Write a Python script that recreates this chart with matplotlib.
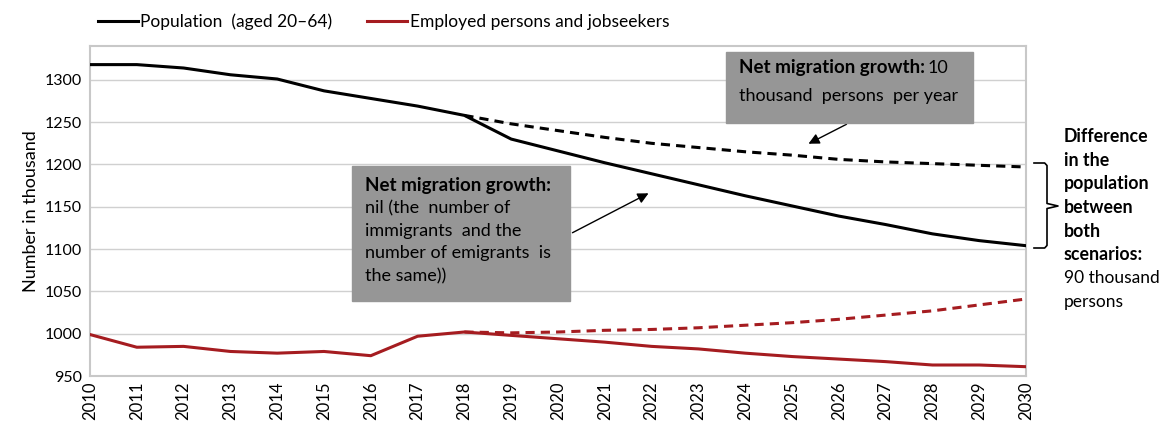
import matplotlib.pyplot as plt
import matplotlib.patches as patches

plt.rcParams['font.family'] = ['Lato', 'DejaVu Sans']

# Data (thousand persons)
years = list(range(2010, 2031))
population = [1318, 1318, 1314, 1306, 1301, 1287, 1278, 1269, 1258, 1230, 1216,
              1202, 1189, 1176, 1163, 1151, 1139, 1129, 1118, 1110, 1104]
population_mig = [1258, 1248, 1240, 1232, 1225, 1220, 1215, 1211, 1206, 1203, 1201, 1199, 1197]
employed = [999, 984, 985, 979, 977, 979, 974, 997, 1002, 998, 994,
            990, 985, 982, 977, 973, 970, 967, 963, 963, 961]
employed_mig = [1002, 1001, 1002, 1004, 1005, 1007, 1010, 1013, 1017, 1022, 1027, 1034, 1041]
years_mig = years[8:]

box1_lines = ['nil (the  number of', 'immigrants  and the', 'number of emigrants  is', 'the same))']
right_bold = ['Difference', 'in the', 'population', 'between', 'both', 'scenarios:']
right_normal = ['90 thousand', 'persons']

W, H = 1164, 423
red = '#a51c20'
grey_box = '#969696'


def fx(px):
    return px / W


def fy(py):
    return 1 - py / H


fig = plt.figure(figsize=(W / 100, H / 100), dpi=100)
ax = fig.add_axes([fx(90), fy(376), (1026 - 90) / W, (376 - 46) / H])

ax.plot(years, population, color='black', lw=2.2, label='Population  (aged 20–64)', zorder=3)
ax.plot(years_mig, population_mig, color='black', lw=2.2, ls=(0, (3, 2)), zorder=3)
ax.plot(years, employed, color=red, lw=2.2, label='Employed persons and jobseekers', zorder=3)
ax.plot(years_mig, employed_mig, color=red, lw=2.2, ls=(0, (3, 2)), zorder=3)

ax.set_xlim(2010, 2030)
ax.set_ylim(950, 1340)
ax.set_yticks(range(950, 1301, 50))
ax.set_xticks(years)
ax.set_xticklabels([str(y) for y in years], rotation=90, fontsize=12)
ax.tick_params(axis='y', labelsize=11.5, length=0, pad=6)
ax.tick_params(axis='x', length=0, pad=4)
ax.grid(axis='y', color='#d0d0d0', lw=1)
ax.set_axisbelow(True)
for s in ax.spines.values():
    s.set_color('#c8c8c8')
    s.set_linewidth(1.5)
ax.set_ylabel('Number in thousand', fontsize=13, labelpad=4)

fig.legend(loc='upper left', bbox_to_anchor=(fx(82), 1.005), ncol=2, frameon=False,
           fontsize=12.5, handlelength=2.3, handletextpad=0.15, columnspacing=2.0)

# grey boxes
fig.add_artist(patches.Rectangle((fx(352), fy(301)), (570 - 352) / W, (301 - 166) / H,
                                 transform=fig.transFigure, color=grey_box, zorder=4))
fig.add_artist(patches.Rectangle((fx(726), fy(123)), (973 - 726) / W, (123 - 52) / H,
                                 transform=fig.transFigure, color=grey_box, zorder=4))

fig.text(fx(365), fy(185), 'Net migration growth:', fontsize=13.5, fontweight='bold',
         va='center', zorder=5)
for i, line in enumerate(box1_lines):
    fig.text(fx(365), fy(208 + 22.7 * i), line, fontsize=13, va='center', zorder=5)

t2 = fig.text(fx(739), fy(73), 'Net migration growth:', fontsize=13.5, fontweight='bold',
              va='baseline', zorder=5)
fig.canvas.draw()
bb = t2.get_window_extent()
fig.text(bb.x1 / W + 0.002, fy(73), '10', fontsize=13, va='baseline', zorder=5)
fig.text(fx(739), fy(101), 'thousand  persons  per year', fontsize=13, va='baseline', zorder=5)

# arrows
ax.annotate('', xy=(fx(651), fy(192)), xytext=(fx(570), fy(234)),
            xycoords='figure fraction', textcoords='figure fraction',
            arrowprops=dict(arrowstyle='-|>', color='black', lw=1, mutation_scale=16),
            annotation_clip=False)
ax.annotate('', xy=(fx(806), fy(145)), xytext=(fx(849), fy(123)),
            xycoords='figure fraction', textcoords='figure fraction',
            arrowprops=dict(arrowstyle='-|>', color='black', lw=1, mutation_scale=16),
            annotation_clip=False)

# brace on the right
bx0, bx1, bx2 = fx(1034), fx(1047), fx(1058)
ytop, ybot, ymid = fy(163), fy(248), fy(206)
brace = [(bx0, ytop), (bx1 - 0.002, ytop), (bx1, ytop - 0.006), (bx1, ymid + 0.006),
         (bx2, ymid), (bx1, ymid - 0.006), (bx1, ybot + 0.006), (bx1 - 0.002, ybot), (bx0, ybot)]
fig.add_artist(plt.Line2D([p[0] for p in brace], [p[1] for p in brace],
                          color='black', lw=1.2, transform=fig.transFigure))

for i, line in enumerate(right_bold):
    fig.text(fx(1064), fy(137 + 23.5 * i), line, fontsize=12.8, fontweight='bold', va='center')
for i, line in enumerate(right_normal):
    fig.text(fx(1064), fy(137 + 23.5 * (i + len(right_bold))), line, fontsize=12.5, va='center')

fig.savefig('out.png', dpi=100)
